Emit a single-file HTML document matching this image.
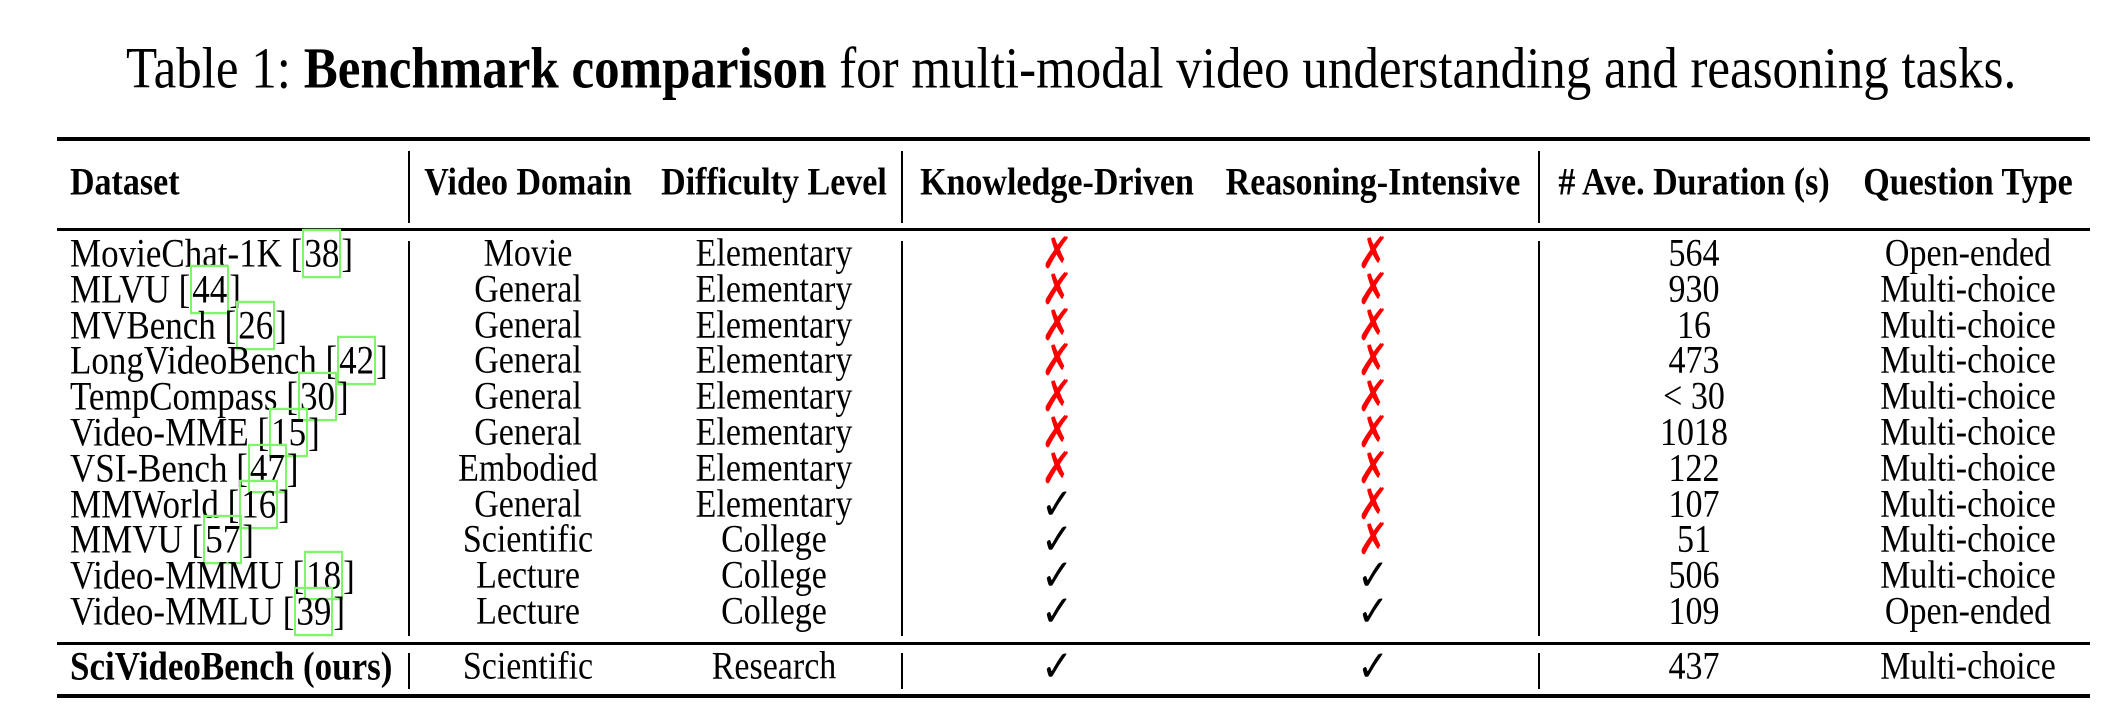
<!DOCTYPE html>
<html><head><meta charset="utf-8">
<style>
body{margin:0;width:2116px;height:720px;background:#fff;position:relative;overflow:hidden;font-family:"Liberation Serif","DejaVu Serif",serif;color:#000}
.t{position:absolute;white-space:nowrap;line-height:1;transform:scaleY(1.15)}
.c{transform:translateX(-50%) scaleY(1.15)}
.rule{position:absolute;left:57px;width:2033px;background:#000}
.vl{position:absolute;width:1.5px;background:#000}
.cite{border:2px solid #7ef56a;padding:0}
.x{color:#f00;font-family:"DejaVu Sans",sans-serif;font-weight:bold}
.ck{font-family:"DejaVu Sans",sans-serif;font-weight:bold}
#title{left:126px;top:44px;font-size:51px}
.h{font-weight:bold;font-size:34px;top:167px}
</style></head><body>
<div id="title" class="t">Table 1: <b>Benchmark comparison</b> for multi-modal video understanding and reasoning tasks.</div>
<div class="rule" style="top:137px;height:4px"></div>
<div class="rule" style="top:228px;height:2.5px"></div>
<div class="rule" style="top:642px;height:2.5px"></div>
<div class="rule" style="top:694px;height:4px"></div>
<div id="tbl"></div>
<script>
const hdr=["Dataset","Video Domain","Difficulty Level","Knowledge-Driven","Reasoning-Intensive","# Ave. Duration (s)","Question Type"];
const names=["MovieChat-1K","MLVU","MVBench","LongVideoBench","TempCompass","Video-MME","VSI-Bench","MMWorld","MMVU","Video-MMMU","Video-MMLU","SciVideoBench (ours)"];
const cites=["38","44","26","42","30","15","47","16","57","18","39",""];
const domain=["Movie","General","General","General","General","General","Embodied","General","Scientific","Lecture","Lecture","Scientific"];
const diff=["Elementary","Elementary","Elementary","Elementary","Elementary","Elementary","Elementary","Elementary","College","College","College","Research"];
const know=[0,0,0,0,0,0,0,1,1,1,1,1];
const reas=[0,0,0,0,0,0,0,0,0,1,1,1];
const dur=["564","930","16","473","< 30","1018","122","107","51","506","109","437"];
const qtype=["Open-ended","Multi-choice","Multi-choice","Multi-choice","Multi-choice","Multi-choice","Multi-choice","Multi-choice","Multi-choice","Multi-choice","Open-ended","Multi-choice"];
const cx=[70,528,774,1057,1373,1694,1968];
const root=document.getElementById('tbl');
function add(html,x,y,cls,name,size){const d=document.createElement('div');d.className='t '+cls;d.innerHTML=html;d.style.left=x+'px';d.style.top=y+'px';if(size)d.style.fontSize=size+'px';


root.appendChild(d);return d;}
hdr.forEach((h,i)=>add(h,cx[i],166,'h'+(i?' c':''),'header-'+i));
[408,901,1538].forEach((x,i)=>{[[151,223],[241,636],[653,689]].forEach((r,j)=>{const v=document.createElement('div');v.className='vl';v.style.left=x+'px';v.style.top=r[0]+'px';v.style.height=(r[1]-r[0])+'px';


root.appendChild(v);});});
names.forEach((n,r)=>{const last=r===names.length-1;const y=last?650:237+r*35.8;const fs=34;
add(last?'<b>'+n+'</b>':n+' [<span class="cite">'+cites[r]+'</span>]',cx[0],y-1,'','dataset-name',35);
add(domain[r],cx[1],y,'c','video-domain',fs);
add(diff[r],cx[2],y,'c','difficulty-level',fs);
add(know[r]?'✓':'✗',cx[3],y-3,'c '+(know[r]?'ck':'x'),'knowledge-driven-mark',38);
add(reas[r]?'✓':'✗',cx[4],y-3,'c '+(reas[r]?'ck':'x'),'reasoning-intensive-mark',38);
add(dur[r],cx[5],y,'c','duration',fs);
add(qtype[r],cx[6],y,'c','question-type',fs);});
</script>
</body></html>
